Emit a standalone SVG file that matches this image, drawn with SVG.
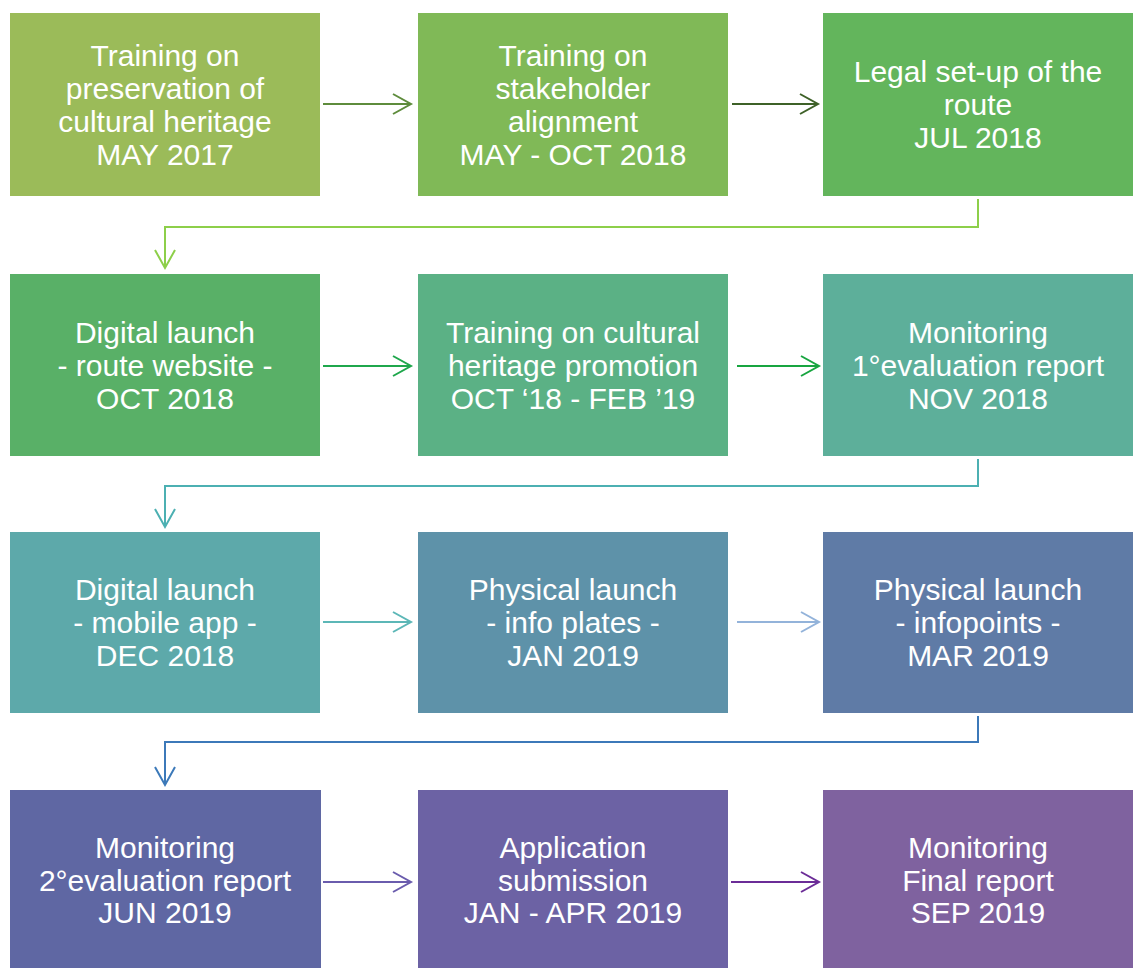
<svg xmlns="http://www.w3.org/2000/svg" width="1137" height="968" viewBox="0 0 1137 968">
  <style>
    .box { stroke: none; }
    .lbl { font-family: "Liberation Sans", Arial, sans-serif; font-size: 30px; fill: #ffffff; text-anchor: middle; }
    .conn { fill: none; stroke-width: 2; }
  </style>
  <defs>
    <marker id="a1" markerUnits="userSpaceOnUse" markerWidth="22" markerHeight="24" refX="19" refY="11" orient="auto"><path d="M1,1 L19,11 L1,21" fill="none" stroke="#5e8c3c" stroke-width="2"/></marker>
    <marker id="a2" markerUnits="userSpaceOnUse" markerWidth="22" markerHeight="24" refX="19" refY="11" orient="auto"><path d="M1,1 L19,11 L1,21" fill="none" stroke="#3e6128" stroke-width="2"/></marker>
    <marker id="a3" markerUnits="userSpaceOnUse" markerWidth="22" markerHeight="24" refX="19" refY="11" orient="auto"><path d="M1,1 L19,11 L1,21" fill="none" stroke="#8dcf4a" stroke-width="2"/></marker>
    <marker id="a4" markerUnits="userSpaceOnUse" markerWidth="22" markerHeight="24" refX="19" refY="11" orient="auto"><path d="M1,1 L19,11 L1,21" fill="none" stroke="#1fa74c" stroke-width="2"/></marker>
    <marker id="a5" markerUnits="userSpaceOnUse" markerWidth="22" markerHeight="24" refX="19" refY="11" orient="auto"><path d="M1,1 L19,11 L1,21" fill="none" stroke="#18a540" stroke-width="2"/></marker>
    <marker id="a6" markerUnits="userSpaceOnUse" markerWidth="22" markerHeight="24" refX="19" refY="11" orient="auto"><path d="M1,1 L19,11 L1,21" fill="none" stroke="#4cb0b2" stroke-width="2"/></marker>
    <marker id="a7" markerUnits="userSpaceOnUse" markerWidth="22" markerHeight="24" refX="19" refY="11" orient="auto"><path d="M1,1 L19,11 L1,21" fill="none" stroke="#5cb7b7" stroke-width="2"/></marker>
    <marker id="a8" markerUnits="userSpaceOnUse" markerWidth="22" markerHeight="24" refX="19" refY="11" orient="auto"><path d="M1,1 L19,11 L1,21" fill="none" stroke="#93b3da" stroke-width="2"/></marker>
    <marker id="a9" markerUnits="userSpaceOnUse" markerWidth="22" markerHeight="24" refX="19" refY="11" orient="auto"><path d="M1,1 L19,11 L1,21" fill="none" stroke="#3c79b9" stroke-width="2"/></marker>
    <marker id="a10" markerUnits="userSpaceOnUse" markerWidth="22" markerHeight="24" refX="19" refY="11" orient="auto"><path d="M1,1 L19,11 L1,21" fill="none" stroke="#6a5cad" stroke-width="2"/></marker>
    <marker id="a11" markerUnits="userSpaceOnUse" markerWidth="22" markerHeight="24" refX="19" refY="11" orient="auto"><path d="M1,1 L19,11 L1,21" fill="none" stroke="#6b2c97" stroke-width="2"/></marker>
  </defs>

  <rect width="1137" height="968" fill="#ffffff"/>

  <!-- Row 1 -->
  <g id="n1">
    <rect class="box" x="10" y="13" width="310" height="183" fill="#9bbb59"/>
    <text class="lbl" x="165" y="66">Training on</text>
    <text class="lbl" x="165" y="99">preservation of</text>
    <text class="lbl" x="165" y="132">cultural heritage</text>
    <text class="lbl" x="165" y="165">MAY 2017</text>
  </g>
  <g id="n2">
    <rect class="box" x="418" y="13" width="310" height="183" fill="#80b957"/>
    <text class="lbl" x="573" y="66">Training on</text>
    <text class="lbl" x="573" y="99">stakeholder</text>
    <text class="lbl" x="573" y="132">alignment</text>
    <text class="lbl" x="573" y="165">MAY - OCT 2018</text>
  </g>
  <g id="n3">
    <rect class="box" x="823" y="13" width="310" height="183" fill="#63b55c"/>
    <text class="lbl" x="978" y="82">Legal set-up of the</text>
    <text class="lbl" x="978" y="115">route</text>
    <text class="lbl" x="978" y="148">JUL 2018</text>
  </g>

  <!-- Row 2 -->
  <g id="n4">
    <rect class="box" x="10" y="274" width="310" height="182" fill="#59b067"/>
    <text class="lbl" x="165" y="343">Digital launch</text>
    <text class="lbl" x="165" y="376">- route website -</text>
    <text class="lbl" x="165" y="409">OCT 2018</text>
  </g>
  <g id="n5">
    <rect class="box" x="418" y="274" width="310" height="182" fill="#5bb185"/>
    <text class="lbl" x="573" y="343">Training on cultural</text>
    <text class="lbl" x="573" y="376">heritage promotion</text>
    <text class="lbl" x="573" y="409">OCT ‘18 - FEB ’19</text>
  </g>
  <g id="n6">
    <rect class="box" x="823" y="274" width="310" height="182" fill="#5daf9a"/>
    <text class="lbl" x="978" y="343">Monitoring</text>
    <text class="lbl" x="978" y="376">1°evaluation report</text>
    <text class="lbl" x="978" y="409">NOV 2018</text>
  </g>

  <!-- Row 3 -->
  <g id="n7">
    <rect class="box" x="10" y="532" width="310" height="181" fill="#5da9aa"/>
    <text class="lbl" x="165" y="600">Digital launch</text>
    <text class="lbl" x="165" y="633">- mobile app -</text>
    <text class="lbl" x="165" y="666">DEC 2018</text>
  </g>
  <g id="n8">
    <rect class="box" x="418" y="532" width="310" height="181" fill="#5e92a9"/>
    <text class="lbl" x="573" y="600">Physical launch</text>
    <text class="lbl" x="573" y="633">- info plates -</text>
    <text class="lbl" x="573" y="666">JAN 2019</text>
  </g>
  <g id="n9">
    <rect class="box" x="823" y="532" width="310" height="181" fill="#5f7ba6"/>
    <text class="lbl" x="978" y="600">Physical launch</text>
    <text class="lbl" x="978" y="633">- infopoints -</text>
    <text class="lbl" x="978" y="666">MAR 2019</text>
  </g>

  <!-- Row 4 -->
  <g id="n10">
    <rect class="box" x="10" y="790" width="311" height="178" fill="#5f67a3"/>
    <text class="lbl" x="165" y="858">Monitoring</text>
    <text class="lbl" x="165" y="891">2°evaluation report</text>
    <text class="lbl" x="165" y="923">JUN 2019</text>
  </g>
  <g id="n11">
    <rect class="box" x="418" y="790" width="310" height="178" fill="#6c62a4"/>
    <text class="lbl" x="573" y="858">Application</text>
    <text class="lbl" x="573" y="891">submission</text>
    <text class="lbl" x="573" y="923">JAN - APR 2019</text>
  </g>
  <g id="n12">
    <rect class="box" x="823" y="790" width="310" height="178" fill="#7f629f"/>
    <text class="lbl" x="978" y="858">Monitoring</text>
    <text class="lbl" x="978" y="891">Final report</text>
    <text class="lbl" x="978" y="923">SEP 2019</text>
  </g>

  <!-- Connectors -->
  <g id="connectors">
    <path class="conn" d="M323,104 H411" stroke="#5e8c3c" marker-end="url(#a1)"/>
    <path class="conn" d="M732,104 H818" stroke="#3e6128" marker-end="url(#a2)"/>
    <path class="conn" d="M978,199 V227 H165 V268" stroke="#8dcf4a" marker-end="url(#a3)"/>

    <path class="conn" d="M323,366 H411" stroke="#1fa74c" marker-end="url(#a4)"/>
    <path class="conn" d="M737,366 H819" stroke="#18a540" marker-end="url(#a5)"/>
    <path class="conn" d="M978,459 V486 H165 V527" stroke="#4cb0b2" marker-end="url(#a6)"/>

    <path class="conn" d="M323,622 H411" stroke="#5cb7b7" marker-end="url(#a7)"/>
    <path class="conn" d="M737,622 H819" stroke="#93b3da" marker-end="url(#a8)"/>
    <path class="conn" d="M978,716 V742 H165 V785" stroke="#3c79b9" marker-end="url(#a9)"/>

    <path class="conn" d="M323,882 H411" stroke="#6a5cad" marker-end="url(#a10)"/>
    <path class="conn" d="M731,882 H819" stroke="#6b2c97" marker-end="url(#a11)"/>
  </g>
</svg>
